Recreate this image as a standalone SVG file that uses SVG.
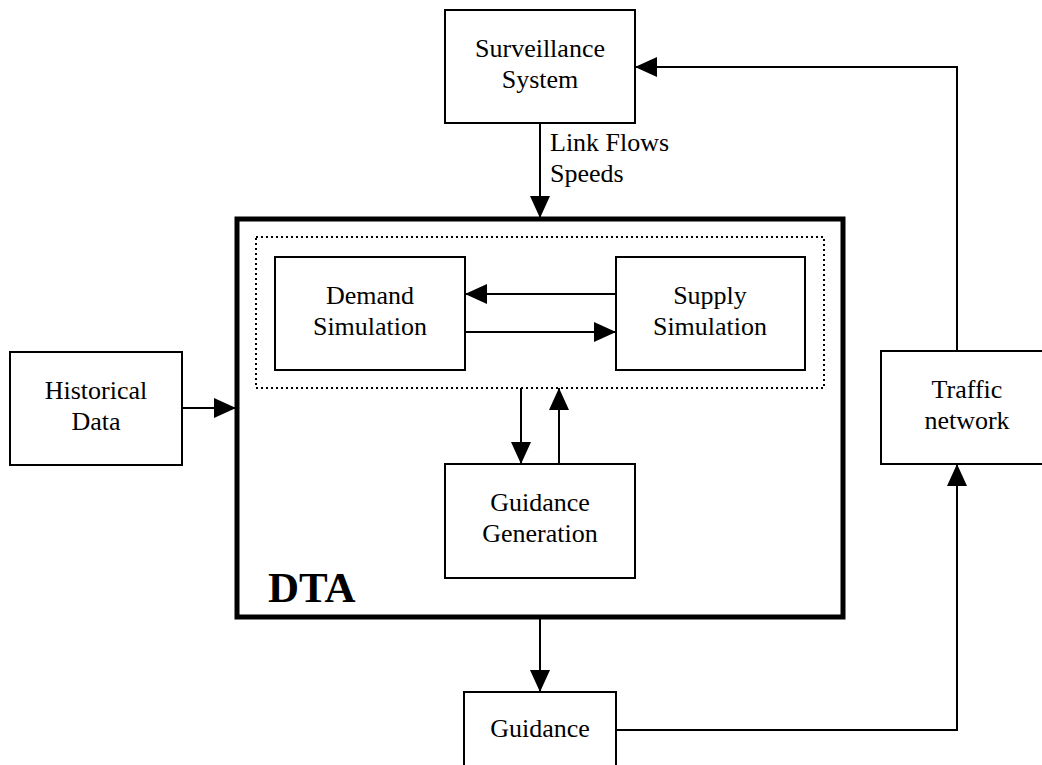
<svg xmlns="http://www.w3.org/2000/svg" width="1042" height="765" viewBox="0 0 1042 765">
  <style>
    .box { fill: #fff; stroke: #000; stroke-width: 2; }
    .lbl { font-family: "Liberation Serif", "Times New Roman", serif; font-size: 26px; fill: #000; text-anchor: middle; }
    .note { font-family: "Liberation Serif", "Times New Roman", serif; font-size: 26px; fill: #000; }
    .wire { fill: none; stroke: #000; stroke-width: 2; }
    .arr { marker-end: url(#head); }
  </style>
  <defs>
    <marker id="head" markerUnits="userSpaceOnUse" viewBox="0 0 22 20" refX="22" refY="10" markerWidth="22" markerHeight="20" orient="auto">
      <path d="M0,0 L22,10 L0,20 Z" fill="#000"/>
    </marker>
  </defs>
  <rect width="1042" height="765" fill="#fff"/>

  <!-- DTA container -->
  <g id="dta">
    <rect x="237" y="219" width="606" height="398" fill="#fff" stroke="#000" stroke-width="5"/>
    <rect x="256" y="237" width="568" height="151" fill="none" stroke="#000" stroke-width="2" stroke-dasharray="2 3"/>
    <text x="268" y="602" font-family="Liberation Serif, Times New Roman, serif" font-size="43" font-weight="bold">DTA</text>
  </g>

  <g id="surveillance">
    <rect class="box" x="445" y="10" width="190" height="113"/>
    <text class="lbl" x="540" y="57">Surveillance</text>
    <text class="lbl" x="540" y="88">System</text>
  </g>

  <g id="historical">
    <rect class="box" x="10" y="352" width="172" height="113"/>
    <text class="lbl" x="96" y="399">Historical</text>
    <text class="lbl" x="96" y="430">Data</text>
  </g>

  <g id="traffic">
    <rect class="box" x="881" y="351" width="170" height="113"/>
    <text class="lbl" x="967" y="398">Traffic</text>
    <text class="lbl" x="967" y="429">network</text>
  </g>

  <g id="demand">
    <rect class="box" x="275" y="257" width="190" height="113"/>
    <text class="lbl" x="370" y="304">Demand</text>
    <text class="lbl" x="370" y="335">Simulation</text>
  </g>

  <g id="supply">
    <rect class="box" x="616" y="257" width="189" height="113"/>
    <text class="lbl" x="710" y="304">Supply</text>
    <text class="lbl" x="710" y="335">Simulation</text>
  </g>

  <g id="guidance-generation">
    <rect class="box" x="445" y="464" width="190" height="114"/>
    <text class="lbl" x="540" y="511">Guidance</text>
    <text class="lbl" x="540" y="542">Generation</text>
  </g>

  <g id="guidance">
    <rect class="box" x="464" y="692" width="152" height="90"/>
    <text class="lbl" x="540" y="737">Guidance</text>
  </g>

  <g id="connectors">
    <path class="wire arr" d="M540,123 V218"/>
    <text class="note" x="550" y="151">Link Flows</text>
    <text class="note" x="550" y="182">Speeds</text>
    <path class="wire arr" d="M957,351 V67 H635"/>
    <path class="wire arr" d="M182,408 H236"/>
    <path class="wire arr" d="M616,294 H465"/>
    <path class="wire arr" d="M465,332 H616"/>
    <path class="wire arr" d="M521,388 V464"/>
    <path class="wire arr" d="M559,464 V388"/>
    <path class="wire arr" d="M540,619 V692"/>
    <path class="wire arr" d="M616,730 H957 V464"/>
  </g>
</svg>
